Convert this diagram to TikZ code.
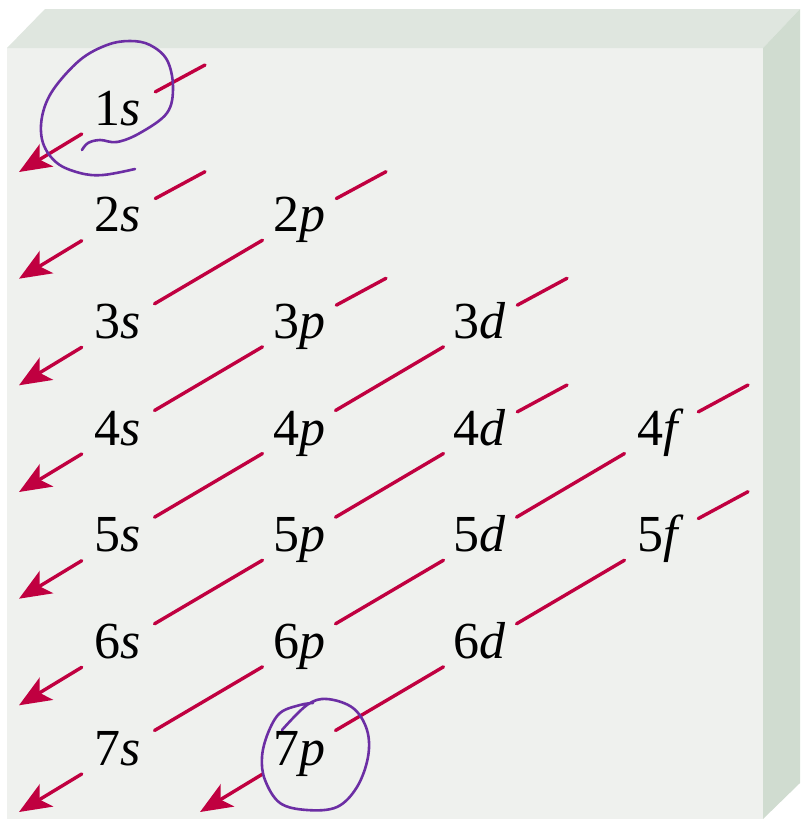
\documentclass[tikz,border=0pt]{standalone}
\usepackage{fontspec}
\setmainfont{Liberation Serif}
\usepackage{xcolor}
\usepackage{tikz}
\usetikzlibrary{arrows.meta,calc,positioning}
\definecolor{frontface}{RGB}{239,241,238}
\definecolor{topface}{RGB}{223,230,223}
\definecolor{sideface}{RGB}{208,220,208}
\definecolor{fillred}{RGB}{192,0,64}
\definecolor{penviolet}{RGB}{108,46,164}
\tikzset{
  orb/.style={circle, minimum size=42pt, inner sep=0pt, text height=18pt, text depth=5pt,
    font=\fontsize{26}{30}\selectfont},
  fillarrow/.style={draw=fillred, line width=1.7pt, -{Stealth[length=16pt, width=13pt, inset=4pt]}},
  pen/.style={draw=penviolet, line width=1.3pt},
  every picture/.style={line cap=round, line join=round}
}

\begin{document}
\begin{tikzpicture}[x=0.5pt, y=-0.5pt]
  \useasboundingbox (0,0) rectangle (800,819);

  % block
  \fill[frontface] (7,48) rectangle (763,819);
  \fill[topface] (7,48) -- (45,9) -- (800,9) -- (763,48) -- cycle;
  \fill[sideface] (763,48) -- (800,9) -- (800,783) -- (763,819) -- cycle;

  % orbitals
  \node[orb] (n1s) at (118,112) {1\textit{s}};
  \node[orb] (n2s) at (118,218.7) {2\textit{s}};
  \node[orb] (n2p) at (299,218.7) {2\textit{p}};
  \node[orb] (n3s) at (118,325.3) {3\textit{s}};
  \node[orb] (n3p) at (299,325.3) {3\textit{p}};
  \node[orb] (n3d) at (480,325.3) {3\textit{d}};
  \node[orb] (n4s) at (118,432) {4\textit{s}};
  \node[orb] (n4p) at (299,432) {4\textit{p}};
  \node[orb] (n4d) at (480,432) {4\textit{d}};
  \node[orb] (n4f) at (661,432) {4\textit{f}};
  \node[orb] (n5s) at (118,538.7) {5\textit{s}};
  \node[orb] (n5p) at (299,538.7) {5\textit{p}};
  \node[orb] (n5d) at (480,538.7) {5\textit{d}};
  \node[orb] (n5f) at (661,538.7) {5\textit{f}};
  \node[orb] (n6s) at (118,645.3) {6\textit{s}};
  \node[orb] (n6p) at (299,645.3) {6\textit{p}};
  \node[orb] (n6d) at (480,645.3) {6\textit{d}};
  \node[orb] (n7s) at (118,752) {7\textit{s}};
  \node[orb] (n7p) at (299,752) {7\textit{p}};

  % ends of the diagonals
  \coordinate (s1) at ($(n1s)+(87,-47)$);
  \coordinate (s2) at ($(n2s)+(87,-47)$);
  \coordinate (s3) at ($(n2p)+(87,-47)$);
  \coordinate (s4) at ($(n3p)+(87,-47)$);
  \coordinate (s5) at ($(n3d)+(87,-47)$);
  \coordinate (s6) at ($(n4d)+(87,-47)$);
  \coordinate (s7) at ($(n4f)+(87,-47)$);
  \coordinate (s8) at ($(n5f)+(87,-47)$);
  \coordinate (e1) at ($(n1s)+(-99,60)$);
  \coordinate (e2) at ($(n2s)+(-99,60)$);
  \coordinate (e3) at ($(n3s)+(-99,60)$);
  \coordinate (e4) at ($(n4s)+(-99,60)$);
  \coordinate (e5) at ($(n5s)+(-99,60)$);
  \coordinate (e6) at ($(n6s)+(-99,60)$);
  \coordinate (e7) at ($(n7s)+(-99,60)$);
  \coordinate (e8) at ($(n7p)+(-99,60)$);

  \draw[fillarrow] (s1) -- (n1s) -- (e1);
  \draw[fillarrow] (s2) -- (n2s) -- (e2);
  \draw[fillarrow] (s3) -- (n2p) -- (n3s) -- (e3);
  \draw[fillarrow] (s4) -- (n3p) -- (n4s) -- (e4);
  \draw[fillarrow] (s5) -- (n3d) -- (n4p) -- (n5s) -- (e5);
  \draw[fillarrow] (s6) -- (n4d) -- (n5p) -- (n6s) -- (e6);
  \draw[fillarrow] (s7) -- (n4f) -- (n5d) -- (n6p) -- (n7s) -- (e7);
  \draw[fillarrow] (s8) -- (n5f) -- (n6d) -- (n7p) -- (e8);

  % hand-drawn rings
  \draw[pen] plot[smooth, tension=0.6] coordinates {(82,150) (88,143) (100,140) (117,142)
    (140,133) (167,113) (173,87) (167,60) (150,45) (130,41) (107,45) (80,60) (53,90)
    (42,117) (43,143) (57,163) (80,173) (103,175) (135,169)};
  \draw[pen] plot[smooth, tension=0.6] coordinates {(282,730) (307,705) (327,699) (353,708)
    (367,730) (368,757) (357,787) (337,807) (307,810) (280,803) (265,780) (262,757)
    (268,733) (280,713) (300,705) (313,703)};
\end{tikzpicture}
\end{document}
